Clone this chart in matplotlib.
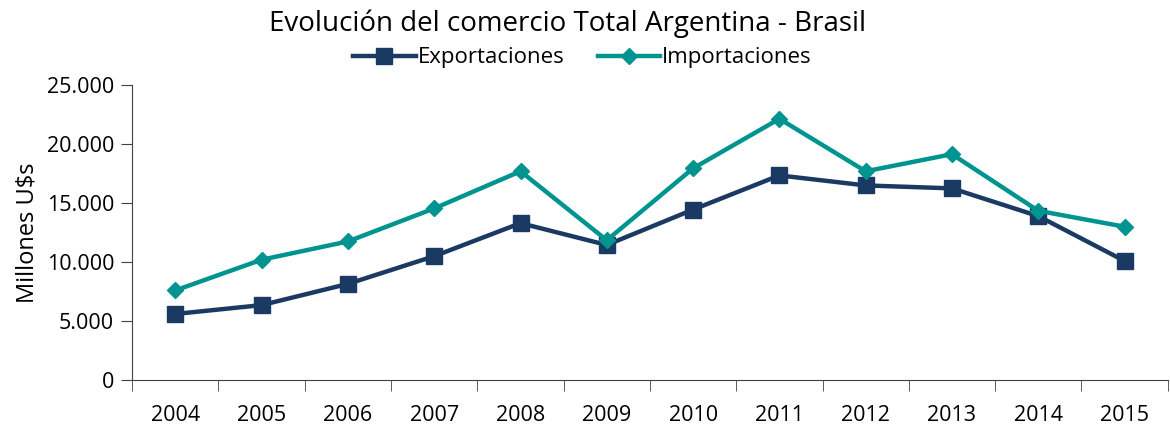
import matplotlib.pyplot as plt
import numpy as np
from matplotlib.ticker import FuncFormatter, FixedLocator

years = ["2004", "2005", "2006", "2007", "2008", "2009",
         "2010", "2011", "2012", "2013", "2014", "2015"]
exportaciones = [5600, 6350, 8150, 10500, 13300, 11450,
                 14450, 17350, 16500, 16250, 13900, 10100]
importaciones = [7600, 10200, 11750, 14550, 17700, 11850,
                 17950, 22150, 17700, 19150, 14350, 13000]

plt.rcParams["font.family"] = ["Open Sans", "DejaVu Sans"]

fig = plt.figure(figsize=(11.7, 4.26), dpi=100)
ax = fig.add_axes([0.113, 0.108, 0.885, 0.692])

x = np.arange(len(years))
ax.plot(x, exportaciones, color="#1B3A63", linewidth=3.2, marker="s",
        markersize=11, label="Exportaciones")
ax.plot(x, importaciones, color="#009490", linewidth=3.2, marker="D",
        markersize=8, label="Importaciones")

ax.set_xlim(-0.5, len(years) - 0.5)
ax.set_ylim(0, 25000)
ax.set_yticks(range(0, 25001, 5000))
ax.yaxis.set_major_formatter(FuncFormatter(lambda v, p: f"{int(v):,}".replace(",", ".")))
ax.set_xticks(x)
ax.set_xticklabels(years)
ax.xaxis.set_minor_locator(FixedLocator(np.arange(-0.5, len(years), 1.0)))
ax.tick_params(axis="x", which="major", length=0, pad=18, labelsize=15.5)
ax.tick_params(axis="x", which="minor", length=8, color="#404040")
ax.tick_params(axis="y", length=8, labelsize=15.5, pad=5, color="#404040")
ax.set_ylabel("Millones U$s", fontsize=17, labelpad=5)

for s in ["top", "right"]:
    ax.spines[s].set_visible(False)
for s in ["left", "bottom"]:
    ax.spines[s].set_color("#404040")

fig.text(0.485, 0.945, "Evolución del comercio Total Argentina - Brasil",
         ha="center", va="center", fontsize=20)
fig.legend(loc="center", bbox_to_anchor=(0.498, 0.864), ncol=2, frameon=False,
           fontsize=16, handlelength=2.8, handletextpad=0.1, columnspacing=1.5)

fig.savefig("out.png", dpi=100)
